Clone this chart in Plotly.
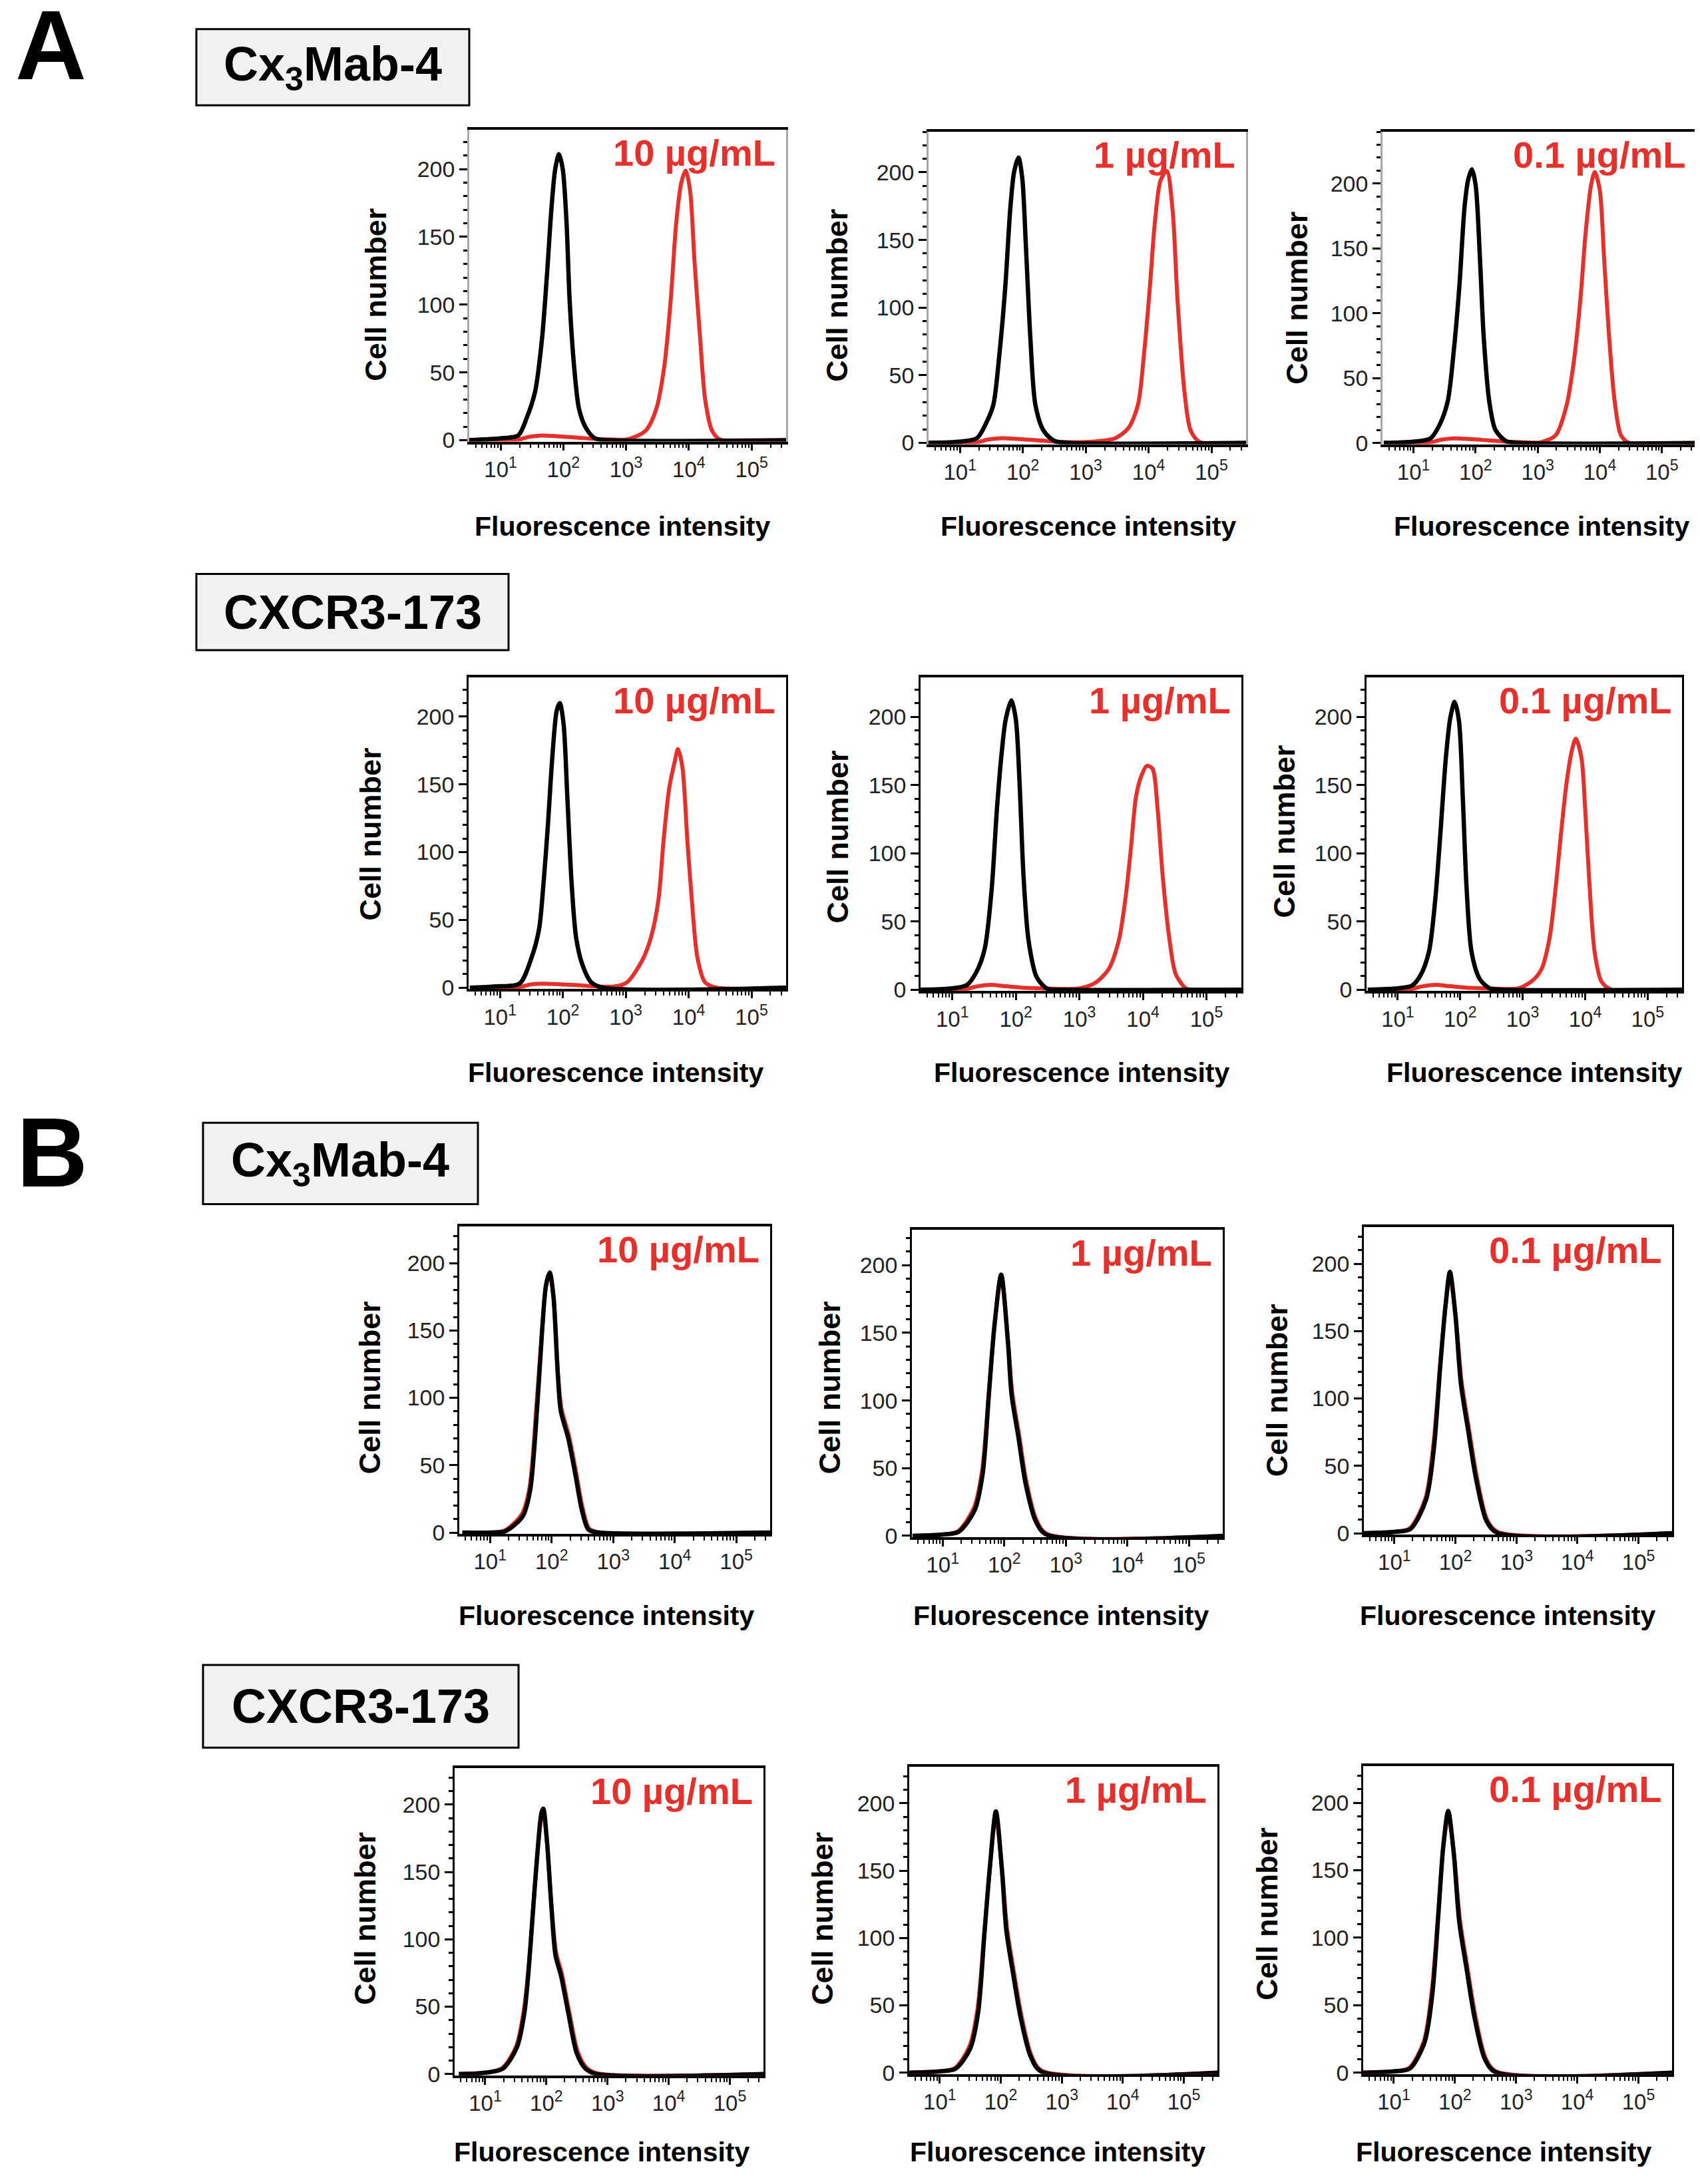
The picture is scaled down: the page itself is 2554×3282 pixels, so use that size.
import numpy as np
import plotly.graph_objects as go

W, H = 2554, 3282
FONT = "Liberation Sans, Arial, sans-serif"
RED = "#e5302c"

# Histogram data.
# *_x = log10 of fluorescence intensity, *_y = cell number
# ctl = control (black), ab = antibody (red)

# A, Cx3Mab-4
r1c1_ctl_x = [0.47, 1.02, 1.28, 1.42, 1.55, 1.66, 1.74, 1.81, 1.87, 1.93, 1.99, 2.05, 2.10, 2.17, 2.25, 2.36, 2.50, 2.72, 5.55]
r1c1_ctl_y = [0, 1.5, 3.5, 17, 36, 75, 123, 171, 200, 211, 200, 161, 103, 55, 23, 9, 1.5, 0, 0]
r1c1_ab_x = [0.47, 1.28, 1.45, 1.65, 1.9, 2.2, 2.5, 2.8, 3.01, 3.31, 3.48, 3.61, 3.71, 3.80, 3.88, 3.95, 4.02, 4.09, 4.18, 4.26, 4.37, 4.50, 5.55]
r1c1_ab_y = [0, 0.5, 2.5, 3.5, 3, 2, 1, 0.5, 0.5, 7, 23, 55, 103, 161, 190, 199, 184, 132, 75, 30, 7, 0.5, 0]

r1c2_ctl_x = [0.47, 1.02, 1.27, 1.42, 1.53, 1.63, 1.72, 1.80, 1.86, 1.93, 1.99, 2.05, 2.12, 2.20, 2.33, 2.50, 2.71, 5.55]
r1c2_ctl_y = [0, 1, 3.5, 15, 28, 67, 115, 173, 200, 211, 196, 144, 77, 28, 9, 1.5, 0, 0]
r1c2_ab_x = [0.47, 1.27, 1.45, 1.65, 1.9, 2.2, 2.5, 2.8, 3.13, 3.47, 3.68, 3.83, 3.93, 4.02, 4.10, 4.19, 4.29, 4.38, 4.46, 4.57, 4.67, 4.82, 5.55]
r1c2_ab_y = [0, 0.5, 2.5, 3.5, 3, 2, 1, 0.5, 1, 3.5, 11, 28, 67, 115, 163, 194, 201, 173, 106, 38, 9, 0.5, 0]

r1c3_ctl_x = [0.52, 1.0, 1.27, 1.42, 1.55, 1.65, 1.74, 1.82, 1.88, 1.94, 2.00, 2.07, 2.13, 2.22, 2.32, 2.49, 2.70, 5.55]
r1c3_ctl_y = [0, 1, 3.4, 14, 32, 72, 122, 181, 203, 211, 199, 142, 82, 32, 10, 1.4, 0, 0]
r1c3_ab_x = [0.52, 1.27, 1.45, 1.65, 1.9, 2.2, 2.5, 2.8, 3.04, 3.29, 3.46, 3.58, 3.69, 3.77, 3.86, 3.92, 4.00, 4.07, 4.15, 4.24, 4.34, 4.47, 5.55]
r1c3_ab_y = [0, 0.5, 2.5, 3.5, 3, 2, 1, 0.5, 0.4, 6, 28, 62, 112, 161, 199, 209, 195, 142, 82, 32, 6, 0, 0]

# A, CXCR3-173
r2c1_ctl_x = [0.52, 0.93, 1.31, 1.50, 1.62, 1.69, 1.76, 1.83, 1.90, 1.95, 2.01, 2.07, 2.14, 2.21, 2.31, 2.45, 2.64, 5.55]
r2c1_ctl_y = [0, 1, 3, 22, 43, 76, 119, 169, 204, 210, 195, 141, 76, 37, 17, 4, 0, 0]
r2c1_ab_x = [0.52, 1.31, 1.5, 1.7, 1.95, 2.2, 2.5, 2.83, 3.02, 3.26, 3.40, 3.52, 3.60, 3.69, 3.78, 3.83, 3.90, 3.98, 4.05, 4.14, 4.26, 4.45, 5.55]
r2c1_ab_y = [0, 0.5, 2.5, 3, 2.5, 2, 1, 1, 4, 20, 37, 65, 108, 147, 167, 176, 163, 108, 65, 22, 4, 0, 0]

r2c2_ctl_x = [0.49, 1.0, 1.23, 1.38, 1.51, 1.62, 1.70, 1.78, 1.84, 1.93, 2.00, 2.06, 2.12, 2.20, 2.33, 2.50, 2.71, 5.55]
r2c2_ctl_y = [0, 1, 3.4, 13, 30, 74, 131, 175, 198, 212, 198, 150, 84, 36, 9, 0.6, 0, 0]
r2c2_ab_x = [0.49, 1.2, 1.4, 1.6, 1.85, 2.1, 2.4, 2.7, 3.0, 3.25, 3.46, 3.62, 3.72, 3.81, 3.89, 3.97, 4.06, 4.15, 4.23, 4.31, 4.42, 4.52, 4.69, 4.86, 5.55]
r2c2_ab_y = [0, 0.5, 2.5, 3.5, 2.5, 1.5, 1, 0.5, 1, 5, 15, 36, 65, 103, 141, 156, 164, 162, 133, 84, 36, 11, 0.6, 0, 0]

r2c3_ctl_x = [0.52, 1.0, 1.23, 1.37, 1.50, 1.60, 1.68, 1.77, 1.84, 1.91, 1.98, 2.04, 2.10, 2.18, 2.31, 2.47, 2.68, 5.55]
r2c3_ctl_y = [0, 1, 3, 11, 28, 66, 113, 170, 199, 211, 197, 142, 76, 28, 8, 1, 0, 0]
r2c3_ab_x = [0.52, 1.2, 1.4, 1.6, 1.85, 2.1, 2.4, 2.7, 2.93, 3.14, 3.30, 3.43, 3.53, 3.61, 3.70, 3.79, 3.85, 3.94, 4.00, 4.07, 4.15, 4.26, 4.42, 5.55]
r2c3_ab_y = [0, 0.5, 2.5, 3.5, 2.5, 1.5, 1, 0.5, 1, 6, 15, 38, 76, 113, 151, 176, 184, 170, 132, 76, 28, 6, 0, 0]

# B, Cx3Mab-4
r3c1_ctl_x = [0.55, 1.01, 1.25, 1.53, 1.65, 1.77, 1.84, 1.91, 1.97, 2.03, 2.10, 2.15, 2.27, 2.39, 2.49, 2.60, 2.77, 5.55]
r3c1_ctl_y = [0, 0, 1, 12, 31, 96, 146, 184, 193, 175, 118, 90, 70, 42, 17, 2, 0, 0]
r3c1_ab_x = [0.55, 1.01, 1.24, 1.52, 1.64, 1.76, 1.84, 1.91, 1.97, 2.03, 2.10, 2.16, 2.28, 2.40, 2.50, 2.61, 2.78, 5.55]
r3c1_ab_y = [0, 0, 1.5, 14, 33, 98, 147, 183, 191, 176, 120, 92, 72, 44, 19, 3, 0, 0]

r3c2_ctl_x = [0.51, 1.0, 1.26, 1.52, 1.65, 1.75, 1.84, 1.95, 2.06, 2.12, 2.23, 2.35, 2.51, 2.68, 5.55]
r3c2_ctl_y = [0, 1, 3, 19, 46, 104, 155, 193, 143, 104, 73, 38, 11, 1, 0]
r3c2_ab_x = [0.51, 1.0, 1.25, 1.51, 1.64, 1.75, 1.84, 1.95, 2.06, 2.13, 2.24, 2.36, 2.52, 2.69, 5.55]
r3c2_ab_y = [0, 1, 3.5, 21, 48, 106, 154, 191, 145, 106, 75, 40, 12, 1.5, 0]

r3c3_ctl_x = [0.5, 1.0, 1.26, 1.52, 1.65, 1.75, 1.84, 1.91, 2.00, 2.09, 2.21, 2.34, 2.51, 2.68, 5.55]
r3c3_ctl_y = [0, 1, 3, 25, 64, 123, 170, 194, 162, 111, 76, 40, 9, 0.4, 0]
r3c3_ab_x = [0.5, 1.0, 1.25, 1.51, 1.64, 1.75, 1.84, 1.91, 2.00, 2.10, 2.22, 2.35, 2.52, 2.69, 5.55]
r3c3_ab_y = [0, 1, 3.5, 26, 66, 125, 169, 191, 163, 113, 78, 42, 10, 1, 0]

# B, CXCR3-173
r4c1_ctl_x = [0.57, 1.0, 1.29, 1.52, 1.64, 1.71, 1.78, 1.85, 1.92, 1.95, 2.01, 2.08, 2.15, 2.24, 2.36, 2.50, 2.64, 2.82, 5.55]
r4c1_ctl_y = [0, 1, 4, 20, 45, 77, 120, 162, 194, 197, 173, 126, 88, 73, 45, 15, 4, 0, 0]
r4c1_ab_x = [0.57, 1.0, 1.28, 1.51, 1.63, 1.71, 1.78, 1.85, 1.92, 1.95, 2.01, 2.08, 2.16, 2.25, 2.37, 2.51, 2.65, 2.83, 5.55]
r4c1_ab_y = [0, 1, 4.5, 21, 47, 79, 121, 161, 191, 194, 172, 127, 90, 75, 47, 17, 5, 0.5, 0]

r4c2_ctl_x = [0.5, 1.0, 1.26, 1.50, 1.63, 1.73, 1.82, 1.92, 2.02, 2.09, 2.20, 2.33, 2.49, 2.66, 5.55]
r4c2_ctl_y = [0, 1, 3, 18, 45, 102, 152, 194, 150, 106, 74, 40, 12, 1, 0]
r4c2_ab_x = [0.5, 1.0, 1.25, 1.49, 1.62, 1.73, 1.82, 1.92, 2.02, 2.10, 2.21, 2.34, 2.50, 2.67, 5.55]
r4c2_ab_y = [0, 1, 3.5, 20, 48, 104, 151, 190, 151, 108, 76, 42, 13, 1.5, 0]

r4c3_ctl_x = [0.5, 1.0, 1.26, 1.50, 1.63, 1.73, 1.81, 1.89, 1.98, 2.07, 2.19, 2.32, 2.49, 2.66, 5.55]
r4c3_ctl_y = [0, 1, 3, 22, 58, 118, 168, 194, 163, 112, 77, 41, 10, 0.5, 0]
r4c3_ab_x = [0.5, 1.0, 1.25, 1.49, 1.62, 1.73, 1.81, 1.89, 1.98, 2.08, 2.20, 2.33, 2.50, 2.67, 5.55]
r4c3_ab_y = [0, 1, 3.5, 23, 60, 120, 167, 190, 164, 114, 79, 43, 11, 1, 0]

concentrations = ["10 µg/mL", "1 µg/mL", "0.1 µg/mL"]
antibodies = ["Cx<sub>3</sub>Mab-4", "CXCR3-173", "Cx<sub>3</sub>Mab-4", "CXCR3-173"]
sections = ["A", "B"]
x_decades = [1, 2, 3, 4, 5]
y_ticks = [0, 50, 100, 150, 200]

curves = [
    [(r1c1_ctl_x, r1c1_ctl_y, r1c1_ab_x, r1c1_ab_y), (r1c2_ctl_x, r1c2_ctl_y, r1c2_ab_x, r1c2_ab_y), (r1c3_ctl_x, r1c3_ctl_y, r1c3_ab_x, r1c3_ab_y)],
    [(r2c1_ctl_x, r2c1_ctl_y, r2c1_ab_x, r2c1_ab_y), (r2c2_ctl_x, r2c2_ctl_y, r2c2_ab_x, r2c2_ab_y), (r2c3_ctl_x, r2c3_ctl_y, r2c3_ab_x, r2c3_ab_y)],
    [(r3c1_ctl_x, r3c1_ctl_y, r3c1_ab_x, r3c1_ab_y), (r3c2_ctl_x, r3c2_ctl_y, r3c2_ab_x, r3c2_ab_y), (r3c3_ctl_x, r3c3_ctl_y, r3c3_ab_x, r3c3_ab_y)],
    [(r4c1_ctl_x, r4c1_ctl_y, r4c1_ab_x, r4c1_ab_y), (r4c2_ctl_x, r4c2_ctl_y, r4c2_ab_x, r4c2_ab_y), (r4c3_ctl_x, r4c3_ctl_y, r4c3_ab_x, r4c3_ab_y)],
]

# layout in pixels: plot frame (left, right, top, bottom), y max, y-title centre, x-title centre
frames = [
    [(697, 1173, 188, 659), (1387, 1864, 191, 663), (2069, 2540, 191, 663)],
    [(696, 1173, 1015, 1486), (1375, 1857, 1015, 1489), (2045, 2519, 1015, 1489)],
    [(682, 1149, 1845, 2309), (1362, 1829, 1850, 2314), (2041, 2504, 1846, 2310)],
    [(675, 1139, 2663, 3127), (1358, 1821, 2661, 3125), (2040, 2504, 2660, 3125)],
]
ymaxes = [[229, 230, 240], [229, 229, 229], [227, 226, 227], [227, 227, 227]]
ytitle_pos = [[(557, 437), (1250, 438), (1941, 442)],
              [(549, 1252), (1250, 1256), (1922, 1248)],
              [(547, 2088), (1238, 2088), (1910, 2092)],
              [(540, 2890), (1227, 2890), (1895, 2883)]]
xtitle_pos = [[(928, 787), (1627, 787), (2308, 787)],
              [(917, 1612), (1617, 1612), (2297, 1612)],
              [(903, 2433), (1587, 2433), (2257, 2433)],
              [(896, 3243), (1581, 3243), (2251, 3243)]]
boxes = [(287, 697, 36, 151), (287, 756, 859, 974), (297, 710, 1688, 1811), (297, 771, 2507, 2632)]
section_pos = [(68, 70), (70, 1742)]


def px(x):
    return x / W


def py(y):
    return 1 - y / H


fig = go.Figure()
layout = dict(width=W, height=H, margin=dict(l=0, r=0, t=0, b=0),
              paper_bgcolor="white", plot_bgcolor="white", showlegend=False)
annotations = []
shapes = []

minor_x = [m * 10 ** d for d in range(0, 6) for m in range(2, 10)]

n = 0
for r in range(4):
    for c in range(3):
        n += 1
        cx, cy, ax_, ay_ = curves[r][c]
        L, R, T, B = frames[r][c]
        xa = "x" if n == 1 else f"x{n}"
        ya = "y" if n == 1 else f"y{n}"
        fig.add_trace(go.Scatter(x=10 ** np.array(ax_), y=ay_, mode="lines", xaxis=xa, yaxis=ya,
                                 line=dict(color=RED, width=6, shape="spline", smoothing=0.8),
                                 hoverinfo="skip"))
        fig.add_trace(go.Scatter(x=10 ** np.array(cx), y=cy, mode="lines", xaxis=xa, yaxis=ya,
                                 line=dict(color="black", width=6.5, shape="spline", smoothing=0.8),
                                 hoverinfo="skip"))
        yline = "#a8a8a8" if r == 0 else "black"
        layout[f"xaxis{n}"] = dict(
            domain=[px(L), px(R)], anchor=ya, type="log", range=[0.5, 5.55],
            showgrid=False, zeroline=False, showline=True, linecolor="black", linewidth=3.5,
            mirror=True, ticks="outside", ticklen=10, tickwidth=2.5, tickcolor="black",
            tickvals=[10 ** d for d in x_decades],
            ticktext=[f"10<sup>{d}</sup>" for d in x_decades],
            tickfont=dict(family=FONT, size=33, color="#222"),
            minor=dict(tickvals=minor_x, ticks="outside", ticklen=6, tickwidth=2, tickcolor="black"),
            fixedrange=True)
        layout[f"yaxis{n}"] = dict(
            domain=[py(B), py(T)], anchor=xa, range=[-1, ymaxes[r][c]],
            showgrid=False, zeroline=False, showline=True, linecolor=yline, linewidth=2.5,
            mirror=True, ticks="outside", ticklen=12, tickwidth=2.5, tickcolor="black",
            tickvals=y_ticks, tickfont=dict(family=FONT, size=34, color="#222"),
            minor=dict(dtick=10, ticks="outside", ticklen=6, tickwidth=2.5, tickcolor="black"),
            fixedrange=True)
        # concentration label
        annotations.append(dict(xref="paper", yref="paper", x=px(R - 14), y=py(T + 1),
                                xanchor="right", yanchor="top", showarrow=False,
                                text=concentrations[c],
                                font=dict(family=FONT, size=56, color=RED, weight="bold")))
        # axis titles
        tx, ty = xtitle_pos[r][c]
        annotations.append(dict(xref="paper", yref="paper", x=px(tx), y=py(ty),
                                xanchor="center", yanchor="middle", showarrow=False,
                                text="Fluorescence intensity",
                                font=dict(family=FONT, size=41, color="black", weight="bold")))
        tx, ty = ytitle_pos[r][c]
        annotations.append(dict(xref="paper", yref="paper", x=px(tx), y=py(ty),
                                xanchor="center", yanchor="middle", showarrow=False,
                                textangle=-90, text="Cell number",
                                font=dict(family=FONT, size=45, color="black", weight="bold")))

for i, (L, R, T, B) in enumerate(boxes):
    shapes.append(dict(type="rect", xref="paper", yref="paper",
                       x0=px(L), x1=px(R), y0=py(B), y1=py(T),
                       fillcolor="#f2f2f2", line=dict(color="black", width=3), layer="below"))
    annotations.append(dict(xref="paper", yref="paper", x=px((L + R) / 2), y=py((T + B) / 2),
                            xanchor="center", yanchor="middle", showarrow=False,
                            text=antibodies[i],
                            font=dict(family=FONT, size=72, color="black", weight="bold")))

# section letters drawn as plain text elements so their box can start above the page edge
for s, (sx, sy) in zip(sections, section_pos):
    annotations.append(dict(xref="paper", yref="paper", x=px(sx), y=py(sy - 10),
                            xanchor="center", yanchor="middle", showarrow=False, text=s,
                            font=dict(family=FONT, size=148, color="black", weight="bold")))

layout["annotations"] = annotations
layout["shapes"] = shapes
fig.update_layout(**layout)
fig.write_html("out.html")
